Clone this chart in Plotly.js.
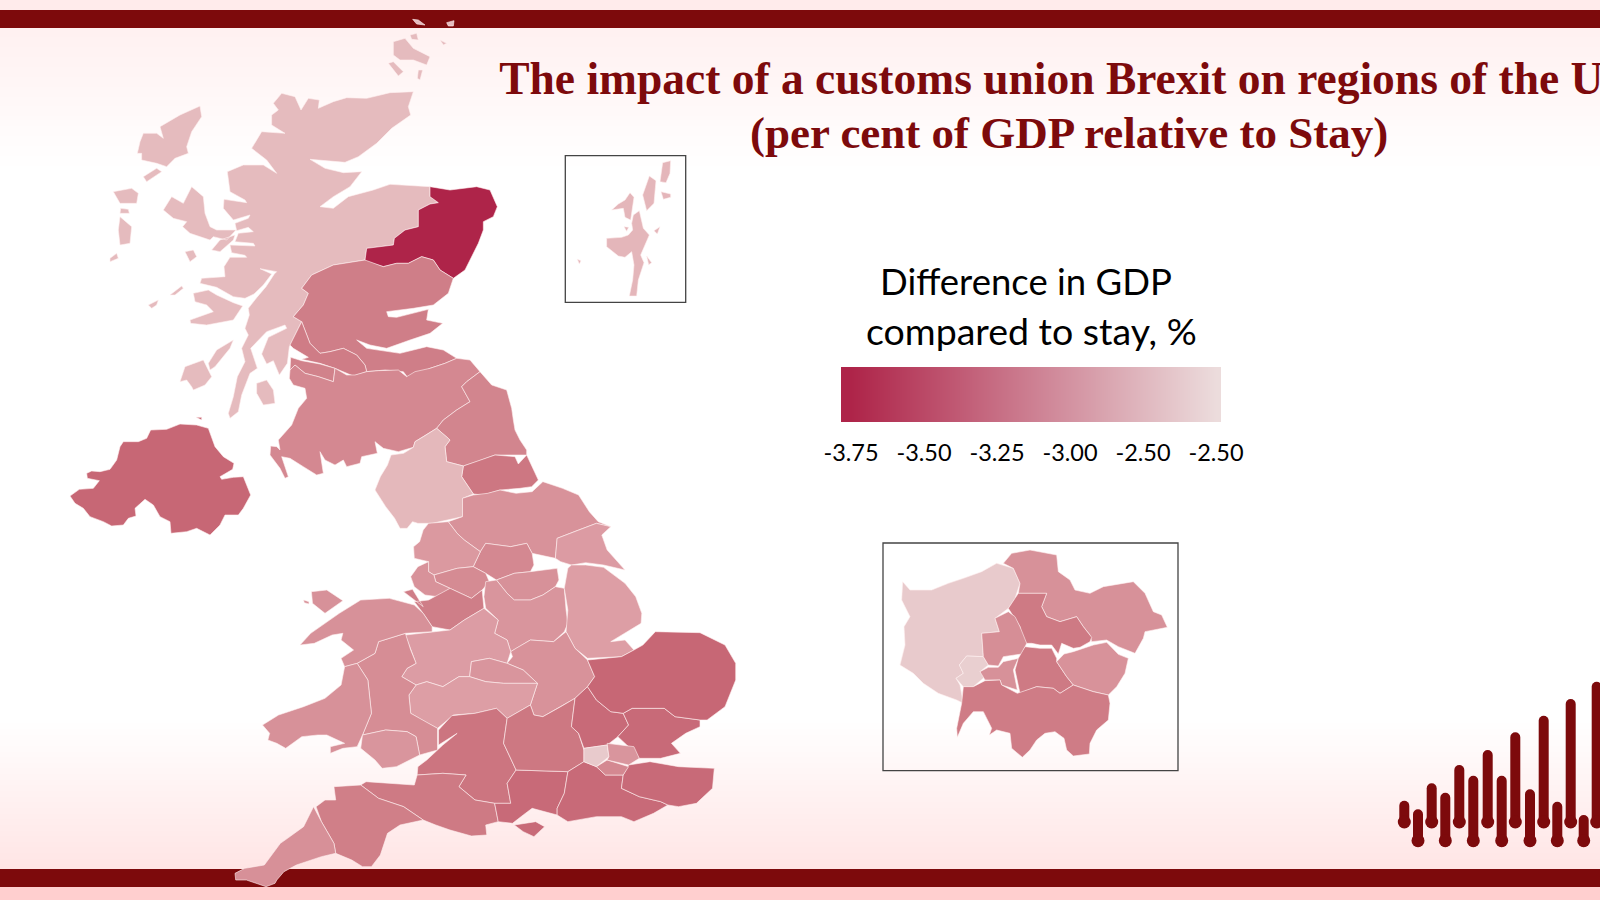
<!DOCTYPE html>
<html><head><meta charset="utf-8">
<script src="https://cdn.plot.ly/plotly-3.0.1.min.js"></script>
<style>html,body{margin:0;padding:0;background:#fff;overflow:hidden}#c{width:1600px;height:900px}</style>
</head><body><div id="c"></div>
<script>
const A=[0,0,3,3],B=[200,450,2.8,3],C=[860,530,3,3],D=[550,140,3,3],E=[60,410,3,3],F=[260,340,3,3];
function P(f,a){const o=[];for(let i=0;i<a.length;i+=2)o.push([f[0]+a[i]/f[2],f[1]+a[i+1]/f[3]]);return o;}

const highlands=[
P(A,[845,280,885,290,903,330,925,295,958,300,955,325,1000,305,1040,293,1100,295,1170,278,1240,275,1225,320,1232,345,1175,385,1130,430,1075,470,1035,487,930,478,975,505,1030,518,1085,515,1050,560,1000,590,960,620,1000,625,1045,590,1120,570,1170,553,1290,560,1290,590,1315,608,1290,612,1255,630,1255,680,1215,690,1183,715,1180,735,1100,745,1095,780,1000,795,935,825,905,865,925,880,910,915,880,950,905,965,895,985,868,1040,862,1090,838,1125,820,1082,800,1092,785,1062,805,1012,860,985,855,975,800,995,752,1045,772,1105,750,1120,725,1185,715,1235,690,1255,685,1240,700,1190,712,1130,735,1085,725,1045,745,1005,735,985,748,945,745,925,770,893,798,860,823,822,830,815,780,806,815,822,790,855,762,882,735,895,700,890,650,862,600,850,605,835,675,830,672,800,690,772,740,772,735,766,695,758,690,735,765,738,760,730,705,725,715,700,760,695,745,682,710,692,705,670,745,655,750,645,700,660,670,625,672,598,740,608,735,600,690,575,682,515,730,495,790,495,830,520,800,480,755,445,785,395,855,400,815,375,815,345,835,330,820,310]),
P(A,[570,960,640,935,620,915,585,905,580,880,625,870,650,885,700,908,728,918,700,960,620,975,572,970]),
P(A,[600,318,605,350,575,395,560,440,565,460,525,475,500,500,470,490,425,480,425,460,412,460,420,425,430,400,470,400,490,415,480,380,540,345]),
P(A,[470,505,485,515,440,545,430,530]),
P(A,[340,575,395,565,415,580,410,610,360,610]),
P(A,[362,625,385,628,388,640,360,640]),
P(A,[360,650,395,680,390,730,360,735,355,690]),
P(A,[330,775,350,760,355,775,330,785]),
P(A,[575,560,610,590,615,640,630,680,650,690,708,690,680,720,640,710,630,720,600,710,570,700,548,680,560,665,520,655,490,630,515,590,550,610]),
P(A,[635,750,660,720,705,705,700,720,660,755]),
P(A,[555,755,580,750,590,770,570,785]),
P(A,[445,915,475,900,470,915,455,925]),
P(A,[510,885,545,858,550,865,525,885]),
P(A,[625,1090,650,1050,700,1020,690,1045,645,1100,630,1110]),
P(A,[540,1145,555,1100,610,1080,625,1110,635,1130,615,1155,580,1170,575,1160,560,1140]),
P(A,[770,1150,800,1140,820,1170,825,1210,790,1215,770,1180]),
P(A,[1180,125,1215,115,1240,145,1290,170,1280,195,1240,180,1200,180,1180,165]),
P(A,[1165,190,1180,185,1210,215,1195,228]),
P(A,[1255,210,1268,210,1260,240,1252,235]),
P(A,[1230,105,1250,100,1255,120,1235,118]),
P(A,[1320,120,1340,130,1330,135]),
P(A,[1238,58,1255,60,1275,75,1250,72]),
P(A,[1340,68,1362,62,1360,78,1345,78])
];
const grampian=[P(A,[1290,560,1350,570,1430,560,1470,570,1492,620,1480,650,1450,665,1450,690,1435,730,1410,780,1395,810,1360,835,1320,810,1300,780,1265,770,1225,790,1190,790,1150,800,1100,785,1095,780,1100,745,1180,735,1183,715,1215,690,1255,680,1255,630,1290,612,1315,608,1290,590])];
const easternScotland=[P(A,[935,825,1000,795,1095,780,1150,800,1190,790,1225,790,1265,770,1300,780,1320,810,1360,835,1345,880,1300,915,1240,925,1160,935,1165,950,1190,952,1285,928,1280,960,1328,970,1290,1000,1230,1020,1160,1045,1110,1035,1070,1020,1100,1045,1200,1060,1280,1040,1330,1050,1370,1075,1335,1090,1290,1105,1225,1135,1210,1115,1155,1110,1100,1115,1095,1095,1070,1065,1030,1045,990,1055,960,1060,930,1030,905,965,880,950,910,915,925,880,905,865])];
const westCentralScotland=[P(A,[895,985,905,965,930,1030,960,1060,990,1055,1030,1045,1070,1065,1095,1095,1100,1115,1060,1128,1005,1105,960,1090,905,1078,925,1072,880,1045,870,1035])];
const southWestScotland=[P(F,[92,52,125,62,180,72,225,85,220,125,175,110,135,100,105,75,90,90])];
const southernScotland=[P(F,[88,115,90,90,105,75,135,100,175,110,220,125,225,85,260,105,285,105,320,95,355,92,385,90,415,90,440,110,465,95,510,85,555,70,590,55,630,60,660,95,620,125,605,140,630,185,590,210,550,240,530,265,490,290,465,305,460,322,415,335,370,325,345,305,352,340,305,350,300,370,260,380,250,360,225,375,195,360,180,335,190,400,170,405,130,380,90,355,65,350,75,380,85,410,75,415,60,385,30,345,32,318,50,320,60,330,55,300,95,255,115,205,140,175,135,145,100,135])];
const northEastEngland=[P(F,[660,95,695,135,740,150,755,205,760,240,765,270,780,300,800,330,800,345,770,345,730,345,705,345,650,365,610,378,560,365,555,320,570,300,530,265,550,240,590,210,630,185,605,140,620,125])];
const teesDurham=[P(F,[610,378,650,365,705,345,765,350,775,372,800,345,835,420,815,440,780,445,720,450,670,465,640,462,605,410])];
const cumbria=[P(F,[460,322,465,305,490,290,530,265,565,295,570,300,555,320,560,365,610,378,605,410,640,462]).concat(P(B,[735,145,735,200,695,210,650,220,610,220,595,215,580,235,560,235,545,205,520,170,490,120,505,80,525,45,535,15,570,10]))];
const northYorkshire=[P(B,[765,135,805,130,840,120,885,130,930,125,960,95,1015,115,1060,135,1090,185,1115,215,1150,230,1110,220,1060,240,1000,265,995,325,930,310,915,280,870,290,800,280,785,305,740,270,720,250,695,215,735,200,735,145])];
const eastYorkshire=[P(B,[1000,265,1060,240,1110,220,1150,230,1125,255,1140,300,1190,360,1130,345,1080,338,1040,345,1010,335,995,325])];
const westYorkshire=[P(B,[800,280,870,290,915,280,930,310,935,345,925,365,880,370,830,390,800,370,765,350,785,305])];
const lancashire=[P(B,[695,215,720,250,740,270,785,305,765,350,720,355,655,375,640,365,640,335,600,325,598,290,615,275,625,240,640,220])];
const greaterManchester=[P(B,[655,375,720,355,765,350,800,370,810,395,790,420,760,445,700,415,660,395])];
const merseyside=[P(B,[640,365,655,375,660,395,700,415,665,440,630,435,600,410,590,380,610,350,640,335])];
const cheshire=[P(B,[700,415,760,445,790,420,795,475,740,510,700,540,650,530,625,490,600,455,640,450]),P(B,[570,425,595,418,625,470,600,450])];
const southYorkshire=[P(B,[830,390,880,370,925,365,1000,355,1005,390,995,410,960,435,925,450,880,450,860,430])];
const derbyNotts=[P(B,[800,395,830,390,860,430,880,450,925,450,960,435,995,410,1020,415,1025,480,1030,520,1020,545,990,575,925,570,885,595,870,605,860,570,825,550,835,510,800,475,795,440])];
const lincolnshire=[P(B,[1040,345,1080,345,1130,352,1190,400,1220,440,1237,490,1235,520,1190,550,1150,575,1190,570,1215,600,1180,620,1085,625,1050,595,1025,545,1030,480,1020,415,1030,355])];
const leicsNorthants=[P(B,[885,595,925,570,990,575,1025,545,1050,595,1085,630,1105,680,1085,710,1050,745,1010,770,960,800,935,795,925,765,945,700,905,660,860,640,875,620,870,605])];
const shropStaffs=[P(B,[575,555,650,545,700,540,740,510,795,475,835,510,825,550,860,570,870,605,860,640,810,625,760,635,755,680,725,680,680,710,635,695,605,705,565,680,580,655,605,640,590,600])];
const westMidlands=[P(B,[760,635,810,625,860,640,905,660,945,700,905,700,850,700,800,695,755,680])];
const herefordWorcs=[P(B,[605,705,635,695,680,710,725,680,755,680,800,695,850,700,905,700,945,700,925,765,860,805,830,775,770,790,710,795,665,835,630,815,590,790,585,735])];
const eastWales=[P(B,[440,640,490,610,500,575,575,550,590,600,605,640,580,655,565,680,605,705,585,735,590,790,630,815,665,835,665,900,615,915,605,860,580,845,520,840,455,855,480,790,470,690])];
const northWales=[P(B,[450,450,530,445,600,465,625,490,650,530,650,545,575,550,500,575,490,610,440,640,405,650,395,625,430,600,395,570,400,550,370,555,320,580,280,585,310,550,390,490]),P(B,[312,425,355,420,400,452,350,490,315,460]),P(B,[290,450,305,455,305,462,292,458])];
const westWales=[P(B,[405,650,440,640,470,690,480,790,455,855,440,890,400,895,365,910,365,890,405,880,355,855,330,855,285,860,240,895,215,880,190,870,195,850,175,825,220,795,290,770,350,745,395,705])];
const southEastWales=[P(B,[455,855,520,840,580,845,605,860,615,915,550,950,510,955,490,930,450,895])];
const glosWilts=[P(B,[668,840,705,797,770,790,830,775,860,805,850,880,885,960,860,1000,870,1060,825,1060,770,1050,725,1010,745,975,680,970,608,975,610,950,635,930,680,885,720,850,668,885])];
const dorsetSomerset=[P(B,[450,1005,465,995,600,1005,608,975,680,970,745,975,725,1010,770,1050,825,1060,835,1115,800,1125,803,1155,760,1158,700,1140,660,1125,625,1110,570,1070,500,1045])];
const devon=[P(B,[375,1010,450,1005,500,1045,570,1070,625,1110,560,1125,525,1150,505,1215,480,1250,455,1250,425,1230,380,1210,375,1180,340,1115,325,1070,350,1050,380,1050])];
const cornwall=[P(B,[318,1070,340,1115,375,1180,380,1210,340,1220,270,1245,235,1265,215,1290,210,1300,185,1310,130,1290,100,1290,98,1270,125,1255,180,1245,225,1180,245,1165,290,1130])];
const hampshire=[P(B,[885,960,1030,965,1020,1030,1000,1075,1000,1095,930,1075,905,1095,875,1120,835,1115,825,1060,870,1060,860,1000]),P(B,[880,1125,940,1115,965,1130,935,1160,905,1145])];
const oxonBerksBucks=[P(B,[860,805,925,765,935,795,960,800,1010,770,1050,745,1040,830,1060,850,1075,900,1075,935,1030,965,885,960,850,880])];
const bedsHerts=[P(B,[1050,745,1085,710,1110,750,1150,785,1185,790,1200,825,1170,860,1140,885,1075,895,1060,850,1040,830])];
const essex=[P(B,[1185,790,1210,775,1300,775,1330,800,1400,810,1400,830,1360,850,1320,880,1345,910,1290,925,1230,925,1210,900,1170,860,1200,825])];
const eastAnglia=[P(B,[1085,630,1180,620,1215,600,1240,585,1275,545,1400,548,1470,585,1500,640,1500,690,1470,770,1420,810,1400,810,1330,800,1300,775,1210,775,1185,790,1150,785,1110,750,1085,710,1105,680])];
const surreySussex=[P(B,[1030,965,1075,935,1110,950,1135,975,1185,975,1180,1015,1230,1040,1290,1055,1310,1065,1270,1090,1215,1115,1180,1100,1110,1100,1030,1115,1000,1095,1000,1075,1020,1030])];
const kent=[P(B,[1185,975,1200,945,1260,935,1340,950,1440,955,1435,1015,1390,1060,1340,1070,1310,1065,1290,1055,1230,1040,1180,1015])];
const miniLondonWest=[P(B,[1075,895,1140,885,1145,920,1110,950,1075,935])];
const miniLondonSouth=[P(B,[1110,950,1140,930,1200,950,1185,975,1135,975])];
const miniLondonEast=[P(B,[1140,880,1215,890,1230,925,1200,945,1140,930,1145,920])];
const northernIreland=[P(E,[30,258,58,238,100,235,118,212,82,205,80,190,95,183,120,185,150,178,170,150,180,110,190,95,235,95,260,85,272,60,320,58,360,42,410,45,445,55,455,85,465,110,490,140,522,160,518,178,480,200,485,208,520,202,550,200,572,255,550,295,535,315,495,315,480,345,450,375,410,355,380,365,333,370,330,335,300,320,280,285,255,268,225,295,228,318,205,325,190,345,155,348,130,335,90,320,70,295,45,280]),P(E,[408,22,425,22,425,30])];
const shetlandInset=[
P(D,[330,125,338,68,362,62,360,100,348,128]),P(D,[278,165,298,108,318,122,312,190,290,212]),P(D,[333,155,362,162,362,172,340,178]),
P(D,[185,210,205,192,225,180,240,158,252,172,242,240,225,232,220,205]),
P(D,[250,225,268,212,280,265,298,285,285,315,272,345,282,368,265,420,260,468,238,468,248,420,252,375,245,335,225,352,205,348,170,320,170,295,215,292,235,285,248,270,245,250]),
P(D,[82,358,93,362,88,372]),P(D,[290,348,305,368,296,374]),P(D,[312,272,330,260,322,282]),P(D,[222,260,236,262,230,274])
];
const londonOuterWest=[P(C,[128,155,150,180,215,180,265,160,310,145,365,125,410,100,460,115,480,160,465,205,445,235,405,265,418,305,365,310,370,380,320,378,298,405,310,430,288,445,300,465,310,520,290,510,235,490,190,460,160,430,120,405,135,345,132,290,150,260,125,210])];
const londonRichmond=[P(C,[298,405,320,378,370,380,385,405,360,425,375,440,340,470,310,470,288,445,310,430])];
const londonOuterNorthEast=[P(C,[430,100,455,70,510,60,590,75,595,125,630,150,645,180,690,190,730,170,820,155,855,190,880,245,905,255,922,292,855,305,850,325,825,370,775,350,740,330,695,335,690,315,670,290,650,260,600,275,560,260,545,230,560,190,475,190,480,160,460,115])];
const londonInnerNorth=[P(C,[465,205,475,190,560,190,545,230,560,260,600,275,650,260,670,290,695,322,690,335,660,352,640,355,605,340,595,372,575,345,540,345,515,340,490,340,480,290,445,235])];
const londonBrentEaling=[P(C,[405,265,445,245,465,260,480,290,500,340,485,372,430,380,415,408,385,405,370,380,365,310,418,305])];
const londonSouthWestInner=[P(C,[385,412,415,412,430,395,475,385,460,420,472,480,425,465,420,450,375,450,360,425])];
const londonSouthCentral=[P(C,[475,385,495,350,540,355,575,355,590,385,590,395,620,440,640,465,600,490,580,475,530,470,480,490,465,420])];
const londonSouthEast=[P(C,[612,372,640,365,700,345,740,337,775,373,805,385,795,430,770,470,745,495,700,485,640,465,620,440,590,395])];
const londonOuterSouth=[P(C,[310,470,340,470,375,452,420,450,425,465,472,490,530,470,580,475,600,490,640,465,700,485,745,495,750,520,745,570,710,600,690,640,688,672,640,678,620,660,612,625,585,605,555,610,530,630,510,660,487,682,455,655,450,610,410,600,388,615,395,595,370,545,340,545,310,580,292,622,290,595,305,520])];

const regionOutlines=[highlands,grampian,easternScotland,westCentralScotland,southWestScotland,southernScotland,northEastEngland,teesDurham,cumbria,northYorkshire,eastYorkshire,westYorkshire,lancashire,greaterManchester,merseyside,cheshire,southYorkshire,derbyNotts,lincolnshire,leicsNorthants,shropStaffs,westMidlands,herefordWorcs,eastWales,northWales,westWales,southEastWales,glosWilts,dorsetSomerset,devon,cornwall,hampshire,oxonBerksBucks,bedsHerts,essex,eastAnglia,surreySussex,kent,miniLondonWest,miniLondonSouth,miniLondonEast,northernIreland,shetlandInset,londonOuterWest,londonRichmond,londonOuterNorthEast,londonInnerNorth,londonBrentEaling,londonSouthWestInner,londonSouthCentral,londonSouthEast,londonOuterSouth];
const regionNames=["Highlands and Islands","North Eastern Scotland","Eastern Scotland","West Central Scotland","South Western Scotland","Southern Scotland","Northumberland and Tyne","Tees Valley and Durham","Cumbria","North Yorkshire","East Yorkshire and N Lincolnshire","West Yorkshire","Lancashire","Greater Manchester","Merseyside","Cheshire","South Yorkshire","Derbyshire and Nottinghamshire","Lincolnshire","Leicestershire and Northamptonshire","Shropshire and Staffordshire","West Midlands","Herefordshire, Worcestershire and Warwickshire","East Wales","North Wales","West Wales","South East Wales","Gloucestershire and Wiltshire","Dorset and Somerset","Devon","Cornwall","Hampshire","Berkshire, Bucks and Oxfordshire","Bedfordshire and Hertfordshire","Essex","East Anglia","Surrey and Sussex","Kent","London West","London South","London East","Northern Ireland","Shetland","Outer London West","Richmond","Outer London North East","Inner London North","Brent and Ealing","Inner London South West","Inner London South","Outer London South East","Outer London South"];
const regionValues=[-2.65,-3.75,-3.08,-3.10,-3.05,-3.00,-3.02,-3.15,-2.67,-2.92,-2.85,-3.00,-2.87,-2.98,-2.92,-3.08,-2.93,-2.90,-2.83,-2.92,-2.84,-2.90,-2.83,-2.96,-2.93,-2.93,-2.90,-3.17,-3.12,-3.07,-2.94,-3.27,-3.14,-3.27,-3.27,-3.30,-3.27,-3.27,-2.58,-3.00,-2.90,-3.30,-2.68,-2.58,-2.56,-2.93,-3.12,-2.95,-2.93,-3.12,-2.92,-3.10];

const scaleStops=[0,0.36,0.55,0.75,0.88,1];
const scaleColors=["#ae2449","#c76775","#d08089","#dea0a7","#e5bbbe","#ecdcdc"];
const legendTickPositions=[0,1,2,3,4,5];
const legendTickLabels=["-3.75","-3.50","-3.25","-3.00","-2.50","-2.50"];
const legendValues=[-3.75,-3.50,-3.25,-3.00,-2.75,-2.50];

const bgY=[0,9,28,170,720,869,887,900];
const bgTint=[0.42,0.42,0.30,0,0,0.55,1,1];
const topBandY=[10,10,28,28],bottomBandY=[869,869,887,887],bandX=[0,1600,1600,0];

const logoUpperX=[1404.3,1431.7,1459.3,1487.7,1515.3,1543.7,1570.7,1596.7];
const logoUpperTop=[800.7,783.3,765,750,732.3,715.7,699,681.7];
const logoLowerX=[1418,1445.3,1473.3,1501.7,1530,1557.3,1583.7];
const logoLowerTop=[809.3,792.7,775.7,775.7,789.3,801.7,815];
const logoUpperFoot=828,logoLowerFoot=846.7;

function hex(c){return [1,3,5].map(i=>parseInt(c.substr(i,2),16));}
function colorOf(v){
  const t=(v+3.75)/1.25;let i=0;
  while(i<scaleStops.length-2&&t>scaleStops[i+1])i++;
  const f=(t-scaleStops[i])/(scaleStops[i+1]-scaleStops[i]);
  const a=hex(scaleColors[i]),b=hex(scaleColors[i+1]);
  return 'rgb('+a.map((q,k)=>Math.round(q+(b[k]-q)*f)).join(',')+')';
}
const traces=[];
traces.push({type:'heatmap',x:[0,1600],y:bgY,z:bgTint.map(t=>[t,t]),zmin:0,zmax:1,zsmooth:'best',
  colorscale:[[0,'#ffffff'],[1,'#ffcfcf']],showscale:false,hoverinfo:'skip'});
[topBandY,bottomBandY].forEach(y=>traces.push({type:'scatter',mode:'lines',x:bandX,y:y,fill:'toself',fillcolor:'#7d0a0c',line:{width:0},hoverinfo:'skip',showlegend:false}));
const lowerOrUpper=[[logoUpperX,logoUpperTop,logoUpperFoot],[logoLowerX,logoLowerTop,logoLowerFoot]];
lowerOrUpper.forEach(([xs,tops,foot])=>{
  traces.push({type:'bar',x:xs,y:tops.map(t=>t-foot),base:foot,width:10,marker:{color:'#7d0a0c',cornerradius:5,line:{width:0}},hoverinfo:'skip',showlegend:false});
  traces.push({type:'scatter',mode:'markers',x:xs,y:xs.map(()=>foot-6),marker:{color:'#7d0a0c',size:13,line:{width:0}},hoverinfo:'skip',showlegend:false});
});
regionOutlines.forEach((polys,i)=>{
  const xs=[],ys=[];
  polys.forEach(p=>{p.forEach(q=>{xs.push(q[0]);ys.push(q[1]);});xs.push(p[0][0]);ys.push(p[0][1]);xs.push(null);ys.push(null);});
  traces.push({type:'scatter',mode:'lines',x:xs,y:ys,fill:'toself',fillcolor:colorOf(regionValues[i]),
    line:{color:'rgba(255,240,240,0.75)',width:0.8},name:regionNames[i],text:regionValues[i]+'%',hoveron:'fills',hoverinfo:'name+text',showlegend:false});
});
traces.push({type:'heatmap',xaxis:'x2',yaxis:'y2',x:legendTickPositions,y:[0,1],z:[legendValues,legendValues],zmin:-3.75,zmax:-2.5,zsmooth:'best',
  colorscale:[[0,scaleColors[0]],[1,scaleColors[scaleColors.length-1]]],showscale:false,hoverinfo:'skip'});

const legendFont={family:'Lato, "Open Sans", sans-serif',color:'#000'};
const titleFontFamily='"Liberation Serif", serif';
const layout={
  width:1600,height:900,margin:{l:0,r:0,t:0,b:0},paper_bgcolor:'#fff',plot_bgcolor:'rgba(0,0,0,0)',showlegend:false,barmode:'overlay',
  title:{text:'The impact of a customs union Brexit on regions of the UK',
    font:{family:titleFontFamily,size:45.5,color:'#7d0a0c',weight:700},
    x:1069/1600,xref:'paper',xanchor:'center',y:1-78/900,yref:'paper',yanchor:'middle'},
  xaxis:{range:[0,1600],visible:false,fixedrange:true,domain:[0,1]},
  yaxis:{range:[900,0],visible:false,fixedrange:true,domain:[0,1]},
  xaxis2:{anchor:'y2',domain:[841/1600,1221/1600],range:[-10/73,5+5/73],tickmode:'array',tickvals:legendTickPositions,ticktext:legendTickLabels,
    ticks:'outside',ticklen:10,tickcolor:'rgba(0,0,0,0)',showgrid:false,zeroline:false,showline:false,fixedrange:true,tickfont:{family:legendFont.family,size:23.5,color:'#000'}},
  yaxis2:{anchor:'x2',domain:[1-422/900,1-367/900],range:[0,1],visible:false,fixedrange:true},
  shapes:[
    {type:'rect',layer:'above',xref:'x',yref:'y',x0:565.3,x1:685.7,y0:155.7,y1:302.3,line:{color:'#444',width:1.3}},
    {type:'rect',layer:'above',xref:'x',yref:'y',x0:883,x1:1178,y0:543,y1:770.7,line:{color:'#444',width:1.3}}
  ],
  annotations:[
    {text:'<b>(per cent of GDP relative to Stay)</b>',xref:'x',yref:'y',x:1069,y:133,showarrow:false,font:{family:titleFontFamily,size:45,color:'#7d0a0c'}},
    {text:'Difference in GDP',xref:'x',yref:'y',x:1026,y:281,showarrow:false,font:{family:legendFont.family,size:36.5,color:'#000'}},
    {text:'compared to stay, %',xref:'x',yref:'y',x:1031,y:330,showarrow:false,font:{family:legendFont.family,size:37.5,color:'#000'}}
  ]
};
Plotly.newPlot('c',traces,layout,{displayModeBar:false,responsive:false});
</script></body></html>
